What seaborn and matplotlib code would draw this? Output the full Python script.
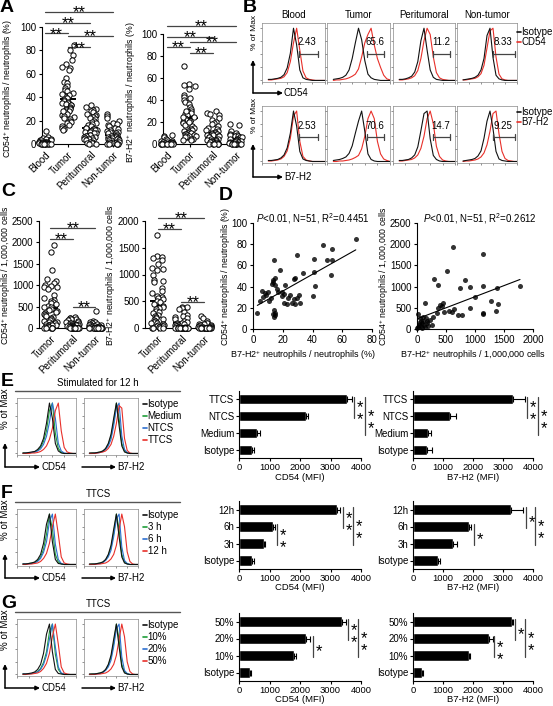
import numpy as np
import pandas as pd
import matplotlib
matplotlib.use("Agg")
import matplotlib.pyplot as plt
from matplotlib.lines import Line2D
from matplotlib.patches import FancyArrowPatch
import seaborn as sns

# ---------------------------------------------------------------- data
sites4 = ["Blood", "Tumor", "Peritumoral", "Non-tumor"]
sites3 = ["Tumor", "Peritumoral", "Non-tumor"]

# A: % positive neutrophils
A_cd54_blood = [11, 6, 5, 4, 4, 3, 3, 3, 2, 2, 2, 2, 1.5, 1.5, 1, 1, 1, 1, 0.5, 0.5, 0.5, 0, 0, 0, 0, 0, 0, 0, 0, 0]
A_cd54_tumor = [85, 80, 76, 72, 68, 66, 65, 63, 56, 53, 52, 50, 48, 46, 45, 44, 42, 41, 40, 39, 38, 37, 36, 35, 35, 34,
                33, 33, 32, 31, 30, 30, 29, 28, 27, 26, 25, 24, 23, 22, 21, 20, 19, 18, 16, 15, 14, 13, 12, 43, 28]
A_cd54_peri = [33, 32, 30, 29, 28, 27, 26, 25, 24, 23, 22, 21, 20, 19, 18, 17, 16, 15, 14, 14, 13, 13, 12, 12, 11, 10,
               10, 9, 9, 8, 8, 7, 7, 6, 6, 5, 5, 4, 4, 3, 3, 2, 2, 1, 1, 0, 0]
A_cd54_non = [26, 24, 22, 20, 18, 17, 16, 15, 14, 13, 12, 11, 10, 10, 9, 9, 8, 8, 7, 7, 6, 6, 5, 5, 5, 4, 4, 4, 3, 3,
              3, 2, 2, 2, 1, 1, 1, 0, 0, 0, 0, 0]
A_b7_blood = [8, 7, 6, 5, 4, 3, 3, 2, 2, 2, 1, 1, 1, 1, 0.5, 0.5, 0, 0, 0, 0, 0, 0, 0, 0, 0]
A_b7_tumor = [71, 55, 54, 53, 50, 45, 43, 42, 40, 38, 36, 34, 32, 30, 29, 28, 27, 26, 25, 24, 23, 22, 21, 20, 19, 18,
              17, 16, 15, 14, 13, 12, 12, 11, 10, 10, 9, 9, 8, 8, 7, 7, 6, 6, 5, 5, 4, 4, 20, 25, 30]
A_b7_peri = [30, 28, 27, 26, 24, 22, 20, 19, 18, 16, 15, 14, 13, 12, 11, 10, 10, 9, 9, 8, 8, 7, 7, 6, 6, 5, 5, 4, 4,
             3, 3, 3, 2, 2, 2, 1, 1, 1, 0, 0, 0, 0, 0, 0]
A_b7_non = [18, 17, 12, 10, 9, 8, 8, 7, 7, 6, 6, 5, 5, 5, 4, 4, 4, 3, 3, 3, 2, 2, 2, 1, 1, 1, 0, 0, 0, 0, 0, 0, 0, 0]

# C: positive neutrophils per 1,000,000 cells
C_cd54_tumor = [1950, 1780, 1350, 1150, 1100, 1050, 1000, 980, 960, 950, 900, 780, 700, 650, 620, 600, 580, 550, 520,
                500, 480, 450, 420, 400, 380, 350, 320, 300, 280, 250, 230, 200, 180, 160, 150, 130, 120, 100, 90, 80,
                70, 60, 50, 40, 30, 20, 10, 5, 0, 0, 0]
C_cd54_peri = [250, 240, 230, 220, 200, 180, 160, 150, 140, 120, 110, 100, 90, 80, 75, 70, 60, 55, 50, 45, 40, 35, 30,
               25, 20, 15, 10, 5, 0, 0, 0, 0, 0, 0, 0, 0, 0, 0, 0, 0]
C_cd54_non = [400, 170, 150, 130, 120, 100, 90, 80, 70, 60, 50, 45, 40, 35, 30, 25, 20, 15, 10, 10, 5, 5, 0, 0, 0, 0,
              0, 0, 0, 0, 0, 0, 0, 0, 0]
C_b7_tumor = [1730, 1350, 1320, 1300, 1280, 1200, 1120, 1100, 1080, 1000, 900, 880, 860, 750, 700, 650, 600, 580, 560,
              540, 500, 480, 450, 420, 400, 380, 350, 320, 300, 280, 250, 230, 200, 180, 160, 150, 130, 120, 100, 90,
              80, 60, 50, 40, 30, 20, 10, 0, 0, 0, 0]
C_b7_peri = [400, 390, 380, 350, 300, 250, 220, 200, 180, 160, 140, 120, 100, 90, 80, 70, 60, 50, 40, 30, 20, 10, 5,
             0, 0, 0, 0, 0, 0, 0, 0, 0, 0, 0, 0, 0, 0, 0, 0, 0]
C_b7_non = [220, 180, 130, 100, 90, 80, 70, 60, 50, 40, 30, 25, 20, 15, 10, 5, 0, 0, 0, 0, 0, 0, 0, 0, 0, 0, 0, 0, 0, 0]

# D: correlations
D_b7_pct = [2.9, 4.7, 5.8, 6.9, 8.1, 8.8, 9.9, 11, 12.1, 14.1, 13.7, 13.5, 14.5, 13, 14.8, 18.2, 16, 17, 19.5, 20.6,
            19.5, 21.7, 14.1, 13.5, 14.5, 14, 15, 23.8, 25, 20.6, 22.9, 26.2, 28.4, 27.3, 29.6, 30.7, 31.8, 27.3, 28.4,
            29.6, 33.6, 40.8, 41.3, 42, 40.4, 47.1, 50, 53.4, 52.3, 53.4, 69.1]
D_cd54_pct = [15.4, 26.4, 36.2, 30.5, 33.6, 32, 35, 26, 29, 65, 46, 44, 48, 42, 41.5, 55.7, 38, 35, 34.8, 32.7, 30.8,
              41.5, 17.9, 14, 13, 11.5, 15, 29, 32, 24.8, 23.5, 25, 24, 28, 29.5, 32, 25, 46.9, 48, 69.6, 53, 66, 54.2,
              40.4, 31, 79.7, 65, 75.3, 50.7, 65, 85]
D_b7_cells = [12, 138, 293, 368, 511, 626, 396, 425, 440, 368, 460, 555, 610, 640, 700, 780, 741, 828, 914, 1000, 914,
              1143, 1143, 1132, 1132, 1270, 1356, 1373, 1402, 1776, 52, 81, 110, 120, 167, 196, 138, 63, 23, 0, 224,
              282, 250, 97, 340, 40, 70, 150, 30, 90, 180]
D_cd54_cells = [345, 605, 1180, 1040, 1370, 1940, 566, 540, 620, 500, 400, 430, 410, 470, 330, 330, 960, 1156, 983,
                760, 502, 1770, 1015, 385, 345, 660, 432, 975, 590, 1014, 252, 134, 180, 100, 134, 70, 55, 70, 40, 15,
                212, 290, 100, 290, 370, 150, 200, 250, 90, 30, 180]
D_text_pct = r"$\it{P}$<0.01, N=51, R$^{2}$=0.4451"
D_text_cells = r"$\it{P}$<0.01, N=51, R$^{2}$=0.2612"

# B / E / F / G: flow histograms (% of max on a log-decade grid)
hist_x = [0.5, 0.75, 1.0, 1.25, 1.5, 1.75, 2.0, 2.25, 2.5, 2.75, 3.0, 3.25, 3.5, 3.75, 4.0, 4.25, 4.5, 4.75, 5.0]
B_blood_iso = [2, 2, 3, 4, 6, 11, 24, 52, 100, 68, 20, 5, 2, 1, 0, 0, 0, 0, 0]
B_blood_cd54 = [1, 1, 2, 3, 4, 7, 15, 36, 72, 100, 58, 18, 5, 2, 1, 0, 0, 0, 0]
B_tumor_iso = [2, 3, 4, 6, 10, 20, 42, 72, 100, 78, 38, 12, 5, 2, 1, 0, 0, 0, 0]
B_tumor_cd54 = [0, 1, 1, 2, 3, 5, 8, 12, 22, 45, 72, 88, 100, 68, 42, 25, 10, 3, 1]
B_peri_iso = [2, 2, 3, 5, 8, 16, 36, 76, 100, 58, 20, 6, 2, 1, 0, 0, 0, 0, 0]
B_peri_cd54 = [1, 1, 2, 3, 5, 9, 19, 42, 76, 100, 88, 45, 15, 5, 2, 1, 0, 0, 0]
B_non_iso = [1, 2, 3, 4, 6, 10, 20, 42, 86, 100, 44, 10, 3, 1, 0, 0, 0, 0, 0]
B_non_cd54 = [1, 1, 2, 3, 4, 7, 13, 29, 62, 95, 100, 45, 12, 3, 1, 0, 0, 0, 0]
B_blood_iso2 = [2, 2, 3, 4, 7, 13, 27, 56, 100, 70, 20, 5, 2, 1, 0, 0, 0, 0, 0]
B_blood_b7 = [1, 1, 2, 3, 5, 10, 21, 46, 90, 100, 40, 10, 3, 1, 0, 0, 0, 0, 0]
B_tumor_iso2 = [2, 3, 4, 6, 9, 16, 31, 56, 80, 100, 60, 15, 4, 1, 0, 0, 0, 0, 0]
B_tumor_b7 = [0, 0, 1, 1, 2, 3, 5, 8, 12, 25, 50, 85, 100, 85, 40, 15, 5, 2, 0]
B_peri_iso2 = [2, 2, 3, 4, 7, 13, 29, 61, 95, 100, 45, 12, 4, 1, 0, 0, 0, 0, 0]
B_peri_b7 = [1, 1, 2, 3, 4, 7, 13, 26, 50, 85, 100, 75, 30, 10, 3, 1, 0, 0, 0]
B_non_iso2 = [1, 2, 3, 4, 6, 11, 21, 46, 80, 100, 65, 20, 5, 2, 1, 0, 0, 0, 0]
B_non_b7 = [0, 1, 1, 2, 3, 5, 9, 17, 33, 60, 95, 100, 55, 20, 6, 2, 1, 0, 0]
B_titles = ["Blood", "Tumor", "Peritumoral", "Non-tumor"]
B_gate_cd54 = ["2.43", "65.6", "11.2", "8.33"]
B_gate_b7 = ["2.53", "70.6", "14.7", "9.25"]

prof_265 = [1, 1, 2, 3, 5, 10, 20, 42, 80, 100, 45, 10, 2, 1, 0, 0, 0, 0, 0]
prof_280 = [1, 1, 2, 3, 4, 8, 15, 30, 60, 100, 70, 20, 5, 1, 0, 0, 0, 0, 0]
prof_295 = [1, 1, 1, 2, 3, 6, 12, 24, 45, 85, 100, 40, 10, 2, 0, 0, 0, 0, 0]
prof_305 = [1, 1, 1, 2, 3, 5, 10, 20, 38, 70, 100, 55, 15, 3, 1, 0, 0, 0, 0]
prof_310 = [0, 1, 1, 2, 3, 5, 9, 18, 34, 62, 100, 70, 20, 5, 1, 0, 0, 0, 0]
prof_320 = [0, 0, 1, 1, 2, 4, 8, 15, 28, 55, 90, 100, 35, 8, 2, 0, 0, 0, 0]
prof_330 = [0, 0, 1, 1, 2, 3, 6, 12, 22, 42, 75, 100, 60, 15, 3, 1, 0, 0, 0]
prof_340 = [0, 0, 0, 1, 2, 3, 5, 10, 18, 34, 60, 95, 90, 30, 6, 1, 0, 0, 0]
prof_350 = [0, 0, 0, 1, 1, 2, 4, 8, 15, 28, 50, 85, 100, 45, 12, 3, 1, 0, 0]
prof_360 = [0, 0, 0, 1, 1, 2, 3, 6, 11, 20, 38, 70, 100, 75, 25, 6, 1, 0, 0]

E_legend = ["Isotype", "Medium", "NTCS", "TTCS"]
F_legend = ["Isotype", "3 h", "6 h", "12 h"]
G_legend = ["Isotype", "10%", "20%", "50%"]

# E / F / G: MFI bars (top to bottom)
E_labels = ["TTCS", "NTCS", "Medium", "Isotype"]
E_cd54 = [3540, 2200, 590, 430]
E_cd54_err = [150, 50, 100, 50]
E_b7 = [3330, 1230, 500, 470]
E_b7_err = [400, 200, 100, 150]
F_labels = ["12h", "6h", "3h", "Isotype"]
F_cd54 = [3210, 1110, 820, 430]
F_cd54_err = [100, 60, 40, 50]
F_b7 = [3270, 1870, 1330, 830]
F_b7_err = [400, 70, 130, 70]
G_labels = ["50%", "20%", "10%", "Isotype"]
G_cd54 = [3370, 2200, 1800, 360]
G_cd54_err = [150, 130, 60, 30]
G_b7 = [3290, 2540, 1870, 310]
G_b7_err = [50, 120, 30, 30]

# ---------------------------------------------------------------- style
sns.set_theme(style="ticks")
plt.rcParams["font.family"] = ["Liberation Sans", "DejaVu Sans"]
plt.rcParams.update({
    "mathtext.fontset": "custom",
    "mathtext.rm": "Liberation Sans",
    "mathtext.it": "Liberation Sans:italic",
    "mathtext.bf": "Liberation Sans:bold",
    "axes.linewidth": 0.8,
    "axes.edgecolor": "black",
    "xtick.major.width": 0.8, "ytick.major.width": 0.8,
    "xtick.major.size": 2.5, "ytick.major.size": 2.5,
    "xtick.labelsize": 7, "ytick.labelsize": 7,
    "xtick.major.pad": 1.5, "ytick.major.pad": 1.5,
    "xtick.color": "black", "ytick.color": "black",
    "text.color": "black",
})
np.random.seed(3)

W, H = 553, 706
fig = plt.figure(figsize=(W / 100, H / 100), dpi=100)
fig.patch.set_facecolor("white")

RED, GREEN, BLUE, BLK = "#e8302a", "#1f9e3a", "#2e6fcf", "#111111"
GRAY = "#444444"


def add_ax(x0, y0, x1, y1):
    return fig.add_axes([x0 / W, 1 - y1 / H, (x1 - x0) / W, (y1 - y0) / H])


def ftext(px, py, s, **kw):
    fig.text(px / W, 1 - py / H, s, **kw)


def fline(xs, ys, **kw):
    fig.add_artist(Line2D([v / W for v in xs], [1 - v / H for v in ys], **kw))


def farrow(x0, y0, x1, y1):
    fig.add_artist(FancyArrowPatch((x0 / W, 1 - y0 / H), (x1 / W, 1 - y1 / H),
                                   transform=fig.transFigure, arrowstyle="-|>",
                                   mutation_scale=6, lw=1.1, color="black",
                                   shrinkA=0, shrinkB=0))


FS_STAR = 12


def stars_h(ax, x, y, n):
    ax.annotate("*" * n, xy=(x, y), xytext=(0, 3.0 - 0.575 * FS_STAR), textcoords="offset points",
                ha="center", va="baseline", fontsize=FS_STAR, annotation_clip=False)


def stars_v(ax, x, y, n):
    if n == 1:
        ax.annotate("*", xy=(x, y), xytext=(4.2, -0.575 * FS_STAR), textcoords="offset points",
                    ha="center", va="baseline", fontsize=FS_STAR, annotation_clip=False)
    else:
        ax.annotate("*\n*", xy=(x, y), xytext=(4.2, 0.43 * FS_STAR), textcoords="offset points",
                    ha="center", va="top", fontsize=FS_STAR, linespacing=0.75,
                    annotation_clip=False)


def strip_panel(box, order, groups, xlim, ylim, yticks, sigs, ylabel, lab_xy):
    ax = add_ax(*box)
    labs, vals = [], []
    for name, g in zip(order, groups):
        labs += [name] * len(g)
        vals += list(g)
    df = pd.DataFrame({"site": labs, "value": vals})
    sns.stripplot(data=df, x="site", y="value", order=order, jitter=0.3, size=3.8,
                  color="white", edgecolor="black", linewidth=0.7, ax=ax, clip_on=False)
    sns.pointplot(data=df, x="site", y="value", order=order, errorbar="se", markers="_",
                  linestyles="none", color="black", capsize=0.3, markersize=12,
                  markeredgewidth=1.4, err_kws={"linewidth": 1.0}, ax=ax)
    ax.set_xlim(*xlim)
    ax.set_ylim(*ylim)
    ax.set_yticks(yticks)
    ax.set_xticks(range(len(order)))
    ax.set_xticklabels(order, rotation=45, ha="right", rotation_mode="anchor")
    ax.set_xlabel("")
    ax.set_ylabel("")
    sns.despine(ax=ax)
    for i, j, y in sigs:
        ax.plot([i, j], [y, y], color=GRAY, lw=0.9, clip_on=False)
        stars_h(ax, (i + j) / 2, y, 2)
    ftext(lab_xy[0], lab_xy[1], ylabel, rotation=90, ha="center", va="center", fontsize=6.3)
    return ax


def hist_ax(box, curves, colors):
    ax = add_ax(*box)
    for ys, c in zip(curves, colors):
        sns.lineplot(x=hist_x, y=ys, color=c, linewidth=0.8, ax=ax, legend=False)
    ax.set_xlim(0, 5)
    ax.set_ylim(-3, 110)
    ax.set_xticks(range(6))
    ax.set_yticks([0, 25, 50, 75, 100])
    ax.set_xticklabels([])
    ax.set_yticklabels([])
    ax.tick_params(length=1.5, width=0.5, colors="#666666")
    ax.set_xlabel("")
    ax.set_ylabel("")
    for s in ax.spines.values():
        s.set_linewidth(0.5)
        s.set_color("#888888")
    return ax


def bar_panel(box, labels, vals, errs, sigs, xlabel):
    ax = add_ax(*box)
    sns.barplot(x=vals, y=labels, order=labels, orient="h", color="black", width=0.6,
                errorbar=None, saturation=1, ax=ax)
    ax.errorbar(vals, list(range(len(vals))), xerr=[[0] * len(vals), errs], fmt="none",
                ecolor="black", elinewidth=0.8, capsize=2, capthick=0.8)
    ax.set_xlim(0, 4000)
    ax.set_ylim(3.5, -0.5)
    ax.set_xticks([0, 1000, 2000, 3000, 4000])
    ax.set_xlabel("")
    ax.set_ylabel("")
    ax.tick_params(axis="y", length=2)
    ax.tick_params(axis="x", labelsize=6.8, pad=1.0)
    sns.despine(ax=ax)
    for i, j, xv, n in sigs:
        ax.plot([xv, xv], [i - 0.12, j + 0.1], color=GRAY, lw=0.9, clip_on=False)
        stars_v(ax, xv, (i + j) / 2, n)
    ftext((box[0] + box[2]) / 2, box[3] + 19, xlabel, ha="center", va="center", fontsize=6.8)
    return ax


# ---------------------------------------------------------------- panel A
strip_panel((42, 27, 116, 144), sites4, [A_cd54_blood, A_cd54_tumor, A_cd54_peri, A_cd54_non],
            (-0.15, 3.15), (0, 100), [0, 20, 40, 60, 80, 100],
            [(0, 3, 113), (0, 2, 103.7), (0, 1, 94.6), (1, 3, 92.3), (1, 2, 82.6)],
            "CD54$^{+}$ neutrophils / neutrophils (%)", (8, 88))
strip_panel((163, 34, 239, 144), sites4, [A_b7_blood, A_b7_tumor, A_b7_peri, A_b7_non],
            (-0.17, 3.15), (0, 100), [0, 20, 40, 60, 80, 100],
            [(0, 3, 107.5), (0, 2, 97.5), (0, 1, 88.5), (1, 3, 93), (1, 2, 83)],
            "B7-H2$^{+}$ neutrophils / neutrophils (%)", (131, 92))

# ---------------------------------------------------------------- panel C
strip_panel((39, 221, 102, 328), sites3, [C_cd54_tumor, C_cd54_peri, C_cd54_non],
            (-0.5, 2.3), (0, 2500), [0, 500, 1000, 1500, 2000, 2500],
            [(0, 2, 2336), (0, 1, 2080), (1, 2, 490)],
            "CD54$^{+}$ neutrophils / 1,000,000 cells", (6, 275))
strip_panel((145, 221, 209, 328), sites3, [C_b7_tumor, C_b7_peri, C_b7_non],
            (-0.57, 2.2), (0, 2000), [0, 500, 1000, 1500, 2000],
            [(0, 2, 2056), (0, 1, 1850), (1, 2, 486)],
            "B7-H2$^{+}$ neutrophils / 1,000,000 cells", (111, 275))

# ---------------------------------------------------------------- panel D
for box, xs, ys, xl, yl, xt, yt, txt, ylab, xlab, ylx, xlx, tx in [
        ((253, 223, 372, 329), D_b7_pct, D_cd54_pct, (0, 80), (0, 100), [0, 20, 40, 60, 80],
         [0, 20, 40, 60, 80, 100], D_text_pct, "CD54$^{+}$ neutrophils / neutrophils (%)",
         "B7-H2$^{+}$ neutrophils / neutrophils (%)", 226, 303, 256),
        ((417, 223, 533, 329), D_b7_cells, D_cd54_cells, (0, 2000), (0, 2500), [0, 500, 1000, 1500, 2000],
         [0, 500, 1000, 1500, 2000, 2500], D_text_cells, "CD54$^{+}$ neutrophils / 1,000,000 cells",
         "B7-H2$^{+}$ neutrophils / 1,000,000 cells", 384, 473, 423)]:
    ax = add_ax(*box)
    sns.regplot(x=xs, y=ys, ci=None, ax=ax,
                scatter_kws={"s": 13, "color": "black", "linewidths": 0, "clip_on": False},
                line_kws={"color": "black", "lw": 0.8})
    ax.set_xlim(*xl)
    ax.set_ylim(*yl)
    ax.set_xticks(xt)
    ax.set_yticks(yt)
    sns.despine(ax=ax)
    ftext(tx, 219, txt, ha="left", va="center", fontsize=7)
    ftext(ylx, 276, ylab, rotation=90, ha="center", va="center", fontsize=6.3)
    ftext(xlx, 355, xlab, ha="center", va="center", fontsize=6.5)

# ---------------------------------------------------------------- panel B
B_cols = [(262, 325), (327, 390), (393, 455), (457, 517)]
B_row1 = [(B_blood_cd54, B_blood_iso), (B_tumor_cd54, B_tumor_iso), (B_peri_cd54, B_peri_iso),
          (B_non_cd54, B_non_iso)]
B_row2 = [(B_blood_b7, B_blood_iso2), (B_tumor_b7, B_tumor_iso2), (B_peri_b7, B_peri_iso2),
          (B_non_b7, B_non_iso2)]
B_gate_px = [(299, 318, 307), (367, 384, 375), (433, 450, 441), (493, 515, 503)]
for k, (x0, x1) in enumerate(B_cols):
    hist_ax((x0, 23, x1, 82), list(B_row1[k]), [RED, BLK])
    hist_ax((x0, 106, x1, 163), list(B_row2[k]), [RED, BLK])
    ftext((x0 + x1) / 2, 15, B_titles[k], ha="center", va="center", fontsize=7)
    g0, g1, lx = B_gate_px[k]
    for gy, ly, lab in [(54, 42, B_gate_cd54[k]), (137, 126, B_gate_b7[k])]:
        fline([g0, g1], [gy, gy], color=GRAY, lw=0.9)
        fline([g0, g0], [gy - 3, gy + 3], color=GRAY, lw=0.9)
        fline([g1, g1], [gy - 3, gy + 3], color=GRAY, lw=0.9)
        ftext(lx, ly, lab, ha="center", va="center", fontsize=7)

for (ya, yb), marker in [((32, 42), "CD54"), ((112, 122), "B7-H2")]:
    for y, lab, c in [(ya, "Isotype", BLK), (yb, marker, RED)]:
        fline([517, 521], [y, y], color=c, lw=1.2)
        ftext(521.5, y, lab, ha="left", va="center", fontsize=7)

for top, mid, bottom, lab in [(32, 93, 60, "CD54"), (115, 177, 144, "B7-H2")]:
    ftext(254, top, "% of Max", rotation=90, ha="center", va="center", fontsize=6)
    farrow(253, mid, 253, bottom)
    farrow(253, mid, 283, mid)
    ftext(284, mid, lab, ha="left", va="center", fontsize=7)

# ---------------------------------------------------------------- panels E, F, G histograms
efg_colors = [GREEN, BLUE, RED, BLK]
EFG_rows = [
    (398, 455, "Stimulated for 12 h", E_legend,
     [prof_295, prof_310, prof_350, prof_280], [prof_310, prof_320, prof_340, prof_305]),
    (509, 566, "TTCS", F_legend,
     [prof_280, prof_295, prof_330, prof_265], [prof_310, prof_320, prof_360, prof_305]),
    (619, 676, "TTCS", G_legend,
     [prof_295, prof_305, prof_330, prof_265], [prof_310, prof_320, prof_360, prof_305]),
]
for top, bot, title, leg, c_cd54, c_b7 in EFG_rows:
    hist_ax((17, top, 76, bot), c_cd54, efg_colors)
    hist_ax((84, top, 138, bot), c_b7, efg_colors)
    ftext(98, top - 15, title, ha="center", va="center", fontsize=7)
    fline([15, 180], [top - 7, top - 7], color="#555555", lw=1.0)
    for y, lab, c in zip([top + 6, top + 18, top + 30, top + 42], leg, [BLK, GREEN, BLUE, RED]):
        fline([143, 147], [y, y], color=c, lw=1.2)
        ftext(147.5, y, lab, ha="left", va="center", fontsize=7)
    ay = bot + 12
    ftext(5, top + 11, "% of Max", rotation=90, ha="center", va="center", fontsize=7)
    farrow(5, ay, 5, ay - 24)
    farrow(5, ay, 40, ay)
    ftext(41, ay, "CD54", ha="left", va="center", fontsize=7)
    farrow(82, ay, 116, ay)
    ftext(117, ay, "B7-H2", ha="left", va="center", fontsize=7)

# ---------------------------------------------------------------- panels E, F, G bars
bar_panel((239, 391, 361, 458), E_labels, E_cd54, E_cd54_err, [(0, 1, 3770, 2), (0, 2, 4130, 2)], "CD54 (MFI)")
bar_panel((413, 391, 533, 458), E_labels, E_b7, E_b7_err, [(0, 1, 3800, 2), (0, 2, 4170, 2)], "B7-H2 (MFI)")
bar_panel((239, 501, 361, 569), F_labels, F_cd54, F_cd54_err,
          [(0, 1, 3410, 2), (1, 2, 1250, 2), (0, 2, 3740, 2)], "CD54 (MFI)")
bar_panel((413, 501, 533, 569), F_labels, F_b7, F_b7_err,
          [(0, 1, 3770, 1), (1, 2, 2030, 1), (0, 2, 4070, 2)], "B7-H2 (MFI)")
bar_panel((239, 613, 361, 681), G_labels, G_cd54, G_cd54_err,
          [(0, 1, 3570, 2), (1, 2, 2430, 1), (0, 2, 3900, 2)], "CD54 (MFI)")
bar_panel((413, 613, 533, 681), G_labels, G_b7, G_b7_err,
          [(0, 1, 3400, 1), (1, 2, 2700, 2), (0, 2, 3730, 2)], "B7-H2 (MFI)")

# ---------------------------------------------------------------- panel letters
for lab, x, y in [("A", 0, 8), ("B", 243, 7), ("C", 1, 192), ("D", 219, 196),
                  ("E", 1, 382), ("F", 1, 493), ("G", 1, 604)]:
    ftext(x, y, lab, ha="left", va="center", fontsize=14, fontweight="bold")

fig.savefig("out.png", dpi=100, facecolor="white")
